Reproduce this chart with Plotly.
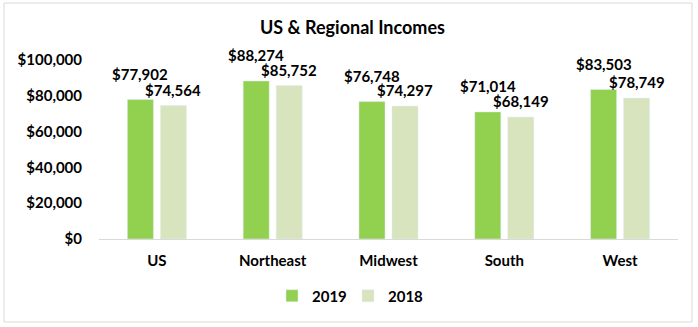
import plotly.graph_objects as go

regions = ["US", "Northeast", "Midwest", "South", "West"]
income_2019 = [77902, 88274, 76748, 71014, 83503]
income_2018 = [74564, 85752, 74297, 68149, 78749]
y_ticks = [0, 20000, 40000, 60000, 80000, 100000]
y_tick_labels = ["$0", "$20,000", "$40,000", "$60,000", "$80,000", "$100,000"]

FONT = "Lato"
GREEN_2019 = "#92D050"
GREEN_2018 = "#D7E4BD"

W, H = 698, 327
L, R, T, B = 99, 20, 60, 88
plot_w = W - L - R
plot_h = H - T - B

fig = go.Figure()
fig.add_trace(go.Bar(name="<b>2019</b>", x=regions, y=income_2019, marker_color=GREEN_2019))
fig.add_trace(go.Bar(name="<b>2018</b>", x=regions, y=income_2018, marker_color=GREEN_2018))

# value labels above each bar
annotations = []
for vals, xs, ys in ((income_2019, -16.5, 26), (income_2018, 16.5, 16)):
    for reg, v in zip(regions, vals):
        annotations.append(dict(
            x=reg, y=v, xref="x", yref="y", text=f"<b>${v:,}</b>", showarrow=False,
            xshift=xs, yshift=ys, yanchor="middle", xanchor="center",
            font=dict(family=FONT, size=15, color="#000000"),
        ))

def px_to_paper_x(px):
    return (px - L) / plot_w

def px_to_paper_y(py):
    return (H - B - py) / plot_h

fig.update_layout(
    width=W, height=H,
    margin=dict(l=L, r=R, t=T, b=B),
    paper_bgcolor="white", plot_bgcolor="white",
    barmode="group", bargap=0.43, bargroupgap=0.21,
    font=dict(family=FONT, size=15, color="#000000"),
    title=dict(text="<b>US & Regional Incomes</b>", x=0.505, xref="container",
               xanchor="center", y=1 - 28 / H, yanchor="middle",
               font=dict(family=FONT, size=18, color="#000000")),
    xaxis=dict(showgrid=False, showline=True, linecolor="#D9D9D9", linewidth=1,
               ticks="", tickfont=dict(family=FONT, size=15), ticklabelstandoff=8,
               tickvals=regions, ticktext=[f"<b>{r}</b>" for r in regions]),
    yaxis=dict(range=[0, 100000], tickvals=y_ticks,
               ticktext=[f"<b>{t}</b>" for t in y_tick_labels],
               showgrid=False, zeroline=False, showline=False, ticks="",
               ticklabelstandoff=16, tickfont=dict(family=FONT, size=15)),
    legend=dict(orientation="h", x=px_to_paper_x(348), xanchor="center",
                y=px_to_paper_y(296), yanchor="middle",
                font=dict(family=FONT, size=15), itemwidth=30,
                entrywidth=31, traceorder="normal"),
    annotations=annotations,
    shapes=[dict(type="rect", xref="paper", yref="paper",
                 x0=px_to_paper_x(4), x1=px_to_paper_x(692),
                 y0=px_to_paper_y(322), y1=px_to_paper_y(3),
                 line=dict(color="#D9D9D9", width=1), fillcolor="rgba(0,0,0,0)",
                 layer="below")],
)

fig.write_html("out.html")
